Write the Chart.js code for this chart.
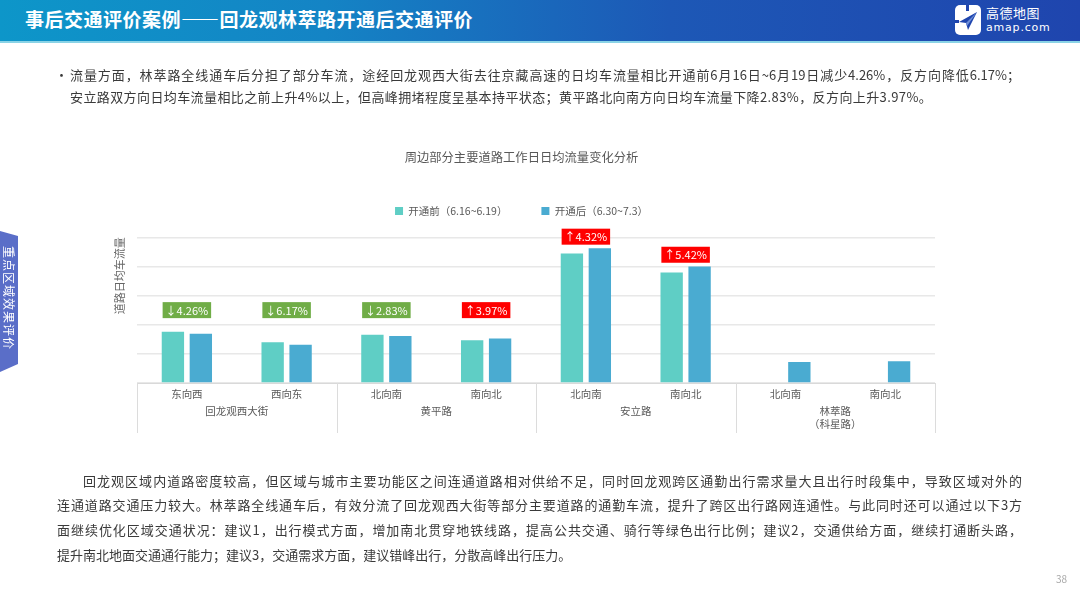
<!DOCTYPE html>
<html lang="zh-CN">
<head>
<meta charset="utf-8">
<title>周边部分主要道路工作日日均流量变化分析</title>
<script src="https://cdn.jsdelivr.net/npm/chart.js@4.4.1/dist/chart.umd.min.js"></script>
<style>
  html, body { margin: 0; padding: 0; background: #fff; }
  body { width: 1080px; height: 591px; position: relative; overflow: hidden;
         font-family: "Noto Sans CJK SC", "Noto Sans", sans-serif; color: #3a3a3a; }
  #wrap { position: absolute; left: 0; top: 0; width: 1080px; height: 591px; }
  .header { position: absolute; left: 0; top: 0; width: 1080px; height: 41px;
            background: linear-gradient(90deg, #0d96c9 0%, #1484c5 30%, #1d58b6 62%, #1f45ae 100%);
            border-bottom: 2px solid #8ad3e6; }
  .header h1 { position: absolute; left: 25px; top: 6px; margin: 0; font-size: 19px; line-height: 26px;
               font-weight: bold; color: #fff; letter-spacing: 0.5px; }
  .logo-cn { position: absolute; left: 986px; top: 5px; color: #fff; font-size: 13px; line-height: 16px; letter-spacing: 0.5px; }
  .logo-en { position: absolute; left: 986px; top: 21px; color: #fff; font-size: 11px; line-height: 14px; letter-spacing: 0.8px; font-family: "DejaVu Sans", sans-serif; }
  .line { position: absolute; white-space: nowrap; font-size: 13px; line-height: 18px; }
  .just { text-align: justify; text-align-last: justify; }
  .side { position: absolute; left: 0; top: 231px; }
  .side-text { position: absolute; left: 1px; top: 246px; width: 16px; height: 115px; color: #fff; font-size: 12px;
               writing-mode: vertical-rl; text-orientation: sideways; line-height: 16px; letter-spacing: 1px; }
  .page { position: absolute; left: 1056px; top: 571px; font-size: 10px; color: #a8a8a8; }
</style>
</head>
<body>
<div id="wrap"><canvas id="chart"></canvas></div>

<div class="header">
  <h1>事后交通评价案例——回龙观林萃路开通后交通评价</h1>
  <svg style="position:absolute;left:955px;top:5px" width="26" height="30" viewBox="0 0 26 30">
    <rect x="0" y="0" width="26" height="30" rx="5" fill="#fff"/>
    <rect x="11" y="0" width="3" height="6" fill="#1f45ae"/>
    <rect x="0" y="15" width="4" height="3" fill="#1f45ae"/>
    <polygon points="22,7 4,17 11,18 13,25" fill="#1f45ae"/>
    <polygon points="22,7 11,18 12,21" fill="#6f8fd8"/>
  </svg>
  <div class="logo-cn">高德地图</div>
  <div class="logo-en">amap.com</div>
</div>

<div class="line" style="left:55px;top:66px;">•</div>
<div class="line just" style="left:70px;top:66px;width:950px;">流量方面，林萃路全线通车后分担了部分车流，途经回龙观西大街去往京藏高速的日均车流量相比开通前6月16日~6月19日减少4.26%，反方向降低6.17%；</div>
<div class="line" style="left:70px;top:88px;letter-spacing:0.4px;">安立路双方向日均车流量相比之前上升4%以上，但高峰拥堵程度呈基本持平状态；黄平路北向南方向日均车流量下降2.83%，反方向上升3.97%。</div>

<div class="line just" style="left:83px;top:472px;width:939px;">回龙观区域内道路密度较高，但区域与城市主要功能区之间连通道路相对供给不足，同时回龙观跨区通勤出行需求量大且出行时段集中，导致区域对外的</div>
<div class="line just" style="left:57px;top:496px;width:965px;">连通道路交通压力较大。林萃路全线通车后，有效分流了回龙观西大街等部分主要道路的通勤车流，提升了跨区出行路网连通性。与此同时还可以通过以下3方</div>
<div class="line just" style="left:57px;top:521px;width:965px;">面继续优化区域交通状况：建议1，出行模式方面，增加南北贯穿地铁线路，提高公共交通、骑行等绿色出行比例；建议2，交通供给方面，继续打通断头路，</div>
<div class="line" style="left:57px;top:546px;">提升南北地面交通通行能力；建议3，交通需求方面，建议错峰出行，分散高峰出行压力。</div>

<svg class="side" width="20" height="142" viewBox="0 0 20 142">
  <polygon points="0,0 18,5 18,133 0,141" fill="#5a6ec8"/>
</svg>
<div class="side-text">重点区域效果评价</div>
<div class="page">38</div>

<script>
// directions under each road, two per road
const categories = ['东向西', '西向东', '北向南', '南向北', '北向南', '南向北', '北向南', '南向北'];
const roads = ['回龙观西大街', '黄平路', '安立路', ['林萃路', '（科星路）']];
const seriesNames = ['开通前（6.16~6.19）', '开通后（6.30~7.3）'];
// one grid step = 1
const beforeValues = [1.76, 1.40, 1.655, 1.47, 4.44, 3.79, null, null];
const afterValues = [1.69, 1.31, 1.61, 1.53, 4.62, 4.00, 0.72, 0.75];
// percent change shown in the tags
const changes = [-4.26, -6.17, -2.83, 3.97, 4.32, 5.42, null, null];
const yTicks = [0, 1, 2, 3, 4, 5];

Chart.defaults.font.family = '"Noto Sans CJK SC", "Noto Sans", sans-serif';
Chart.defaults.color = '#595959';

// give the legend a bit more room below it
const legendGap = {
    id: 'legendGap',
    beforeInit(chart) {
        const fit = chart.legend.fit;
        chart.legend.fit = function () {
            fit.call(this);
            this.height += 11;
        };
    }
};

// road names and the cell lines under the direction labels
const roadAxis = {
    id: 'roadAxis',
    afterDraw(chart) {
        const x = chart.scales.x;
        const area = chart.chartArea;
        const ctx = chart.ctx;
        const half = (x.getPixelForValue(1) - x.getPixelForValue(0)) / 2;
        ctx.save();
        ctx.strokeStyle = '#dcdcdc';
        ctx.lineWidth = 1;
        for (let g = 0; g <= roads.length; g++) {
            const px = g < roads.length ? x.getPixelForValue(g * 2) - half : x.getPixelForValue(categories.length - 1) + half;
            ctx.beginPath();
            ctx.moveTo(Math.round(px) + 0.5, area.bottom);
            ctx.lineTo(Math.round(px) + 0.5, area.bottom + 50);
            ctx.stroke();
        }
        ctx.fillStyle = '#595959';
        ctx.font = '10.5px "Noto Sans CJK SC"';
        ctx.textAlign = 'center';
        ctx.textBaseline = 'middle';
        roads.forEach((name, g) => {
            const cx = (x.getPixelForValue(g * 2) + x.getPixelForValue(g * 2 + 1)) / 2;
            const lines = Array.isArray(name) ? name : [name];
            lines.forEach((t, k) => ctx.fillText(t, cx, area.bottom + 28 + k * 13));
        });
        ctx.restore();
    }
};

// green / red change tags above each pair
const changeTags = {
    id: 'changeTags',
    afterDatasetsDraw(chart) {
        const x = chart.scales.x;
        const y = chart.scales.y;
        const ctx = chart.ctx;
        ctx.save();
        ctx.font = '11px "Noto Sans CJK SC"';
        ctx.textAlign = 'center';
        ctx.textBaseline = 'middle';
        changes.forEach((c, i) => {
            if (c === null) return;
            const text = (c < 0 ? '↓' : '↑') + Math.abs(c).toFixed(2) + '%';
            const top = Math.max(beforeValues[i] || 0, afterValues[i] || 0);
            const cy = y.getPixelForValue(Math.max(2.5, top + 0.4));
            const cx = x.getPixelForValue(i);
            const w = ctx.measureText(text).width + 6;
            ctx.fillStyle = c < 0 ? '#70ad47' : '#ff0000';
            ctx.fillRect(cx - w / 2, cy - 8, w, 16);
            ctx.fillStyle = '#fff';
            ctx.fillText(text, cx, cy + 0.5);
        });
        ctx.restore();
    }
};

const ctx = document.getElementById('chart').getContext('2d');

new Chart(ctx, {
    type: 'bar',
    data: {
        labels: categories,
        datasets: [{
            label: seriesNames[0],
            data: beforeValues,
            backgroundColor: '#5fcec5',
            borderWidth: 0,
            barPercentage: 0.8,
            categoryPercentage: 0.56
        }, {
            label: seriesNames[1],
            data: afterValues,
            backgroundColor: '#4aabd1',
            borderWidth: 0,
            barPercentage: 0.8,
            categoryPercentage: 0.56
        }]
    },
    options: {
        responsive: true,
        maintainAspectRatio: false,
        animation: false,
        layout: {
            padding: { left: 108, right: 145, top: 150, bottom: 178 }
        },
        plugins: {
            title: {
                display: true,
                text: '周边部分主要道路工作日日均流量变化分析',
                color: '#595959',
                font: { size: 12.3, weight: 'normal' },
                padding: { top: 0, bottom: 7 }
            },
            legend: {
                display: true,
                labels: {
                    boxWidth: 8,
                    boxHeight: 8,
                    padding: 34,
                    color: '#595959',
                    font: { size: 10.5 }
                }
            },
            tooltip: { enabled: false }
        },
        scales: {
            x: {
                afterFit(scale) { scale.height = 30; },
                grid: { display: false, drawTicks: false },
                border: { display: true, color: '#d9d9d9', width: 1 },
                ticks: { padding: 5, color: '#595959', font: { size: 10.5 } }
            },
            y: {
                min: yTicks[0],
                max: yTicks[yTicks.length - 1],
                afterFit(scale) { scale.width = 29; },
                afterBuildTicks(scale) { scale.ticks = yTicks.map(v => ({ value: v })); },
                grid: { color: '#e8e8e8', lineWidth: 1.5, drawTicks: false },
                border: { display: false },
                ticks: { display: false },
                title: {
                    display: true,
                    text: '道路日均车流量',
                    align: 'end',
                    color: '#666',
                    font: { size: 11 },
                    padding: { top: 5, bottom: 0 }
                }
            }
        }
    },
    plugins: [legendGap, roadAxis, changeTags]
});
</script>
</body>
</html>
